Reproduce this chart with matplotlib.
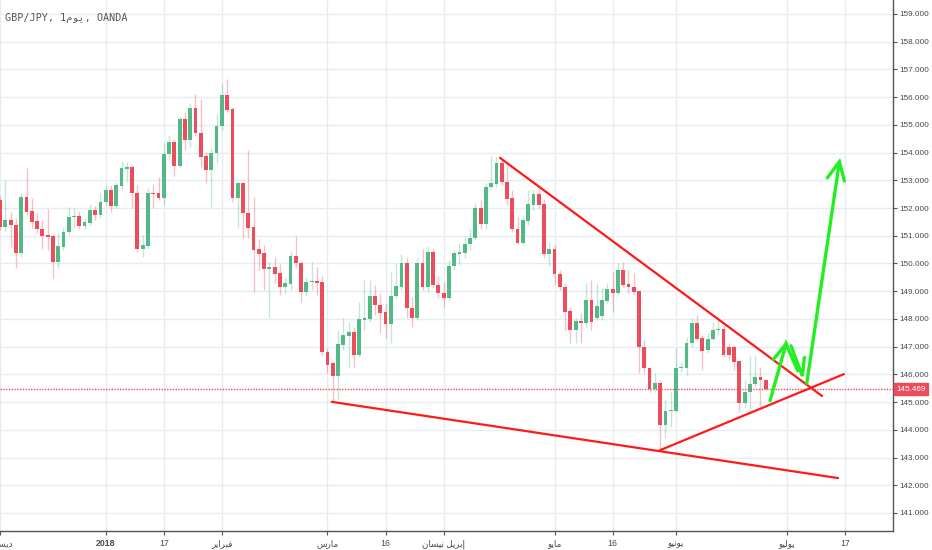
import matplotlib.pyplot as plt

# GBP/JPY daily candles, Dec 2017 - Jun 2018
opens = [152.29, 151.32, 151.57, 151.39, 150.38, 152.40, 151.89, 151.53, 151.24, 151.03,
         150.99, 150.05, 150.59, 151.14, 151.68, 151.71, 151.35, 151.46, 151.93, 151.75,
         152.22, 152.65, 152.07, 152.79, 153.41, 153.48, 152.54, 150.52, 150.63, 152.54,
         152.54, 152.36, 153.95, 154.38, 153.52, 155.21, 154.45, 155.61, 154.70, 153.88,
         153.37, 153.99, 154.96, 156.08, 155.57, 152.36, 152.90, 151.82, 151.32, 150.52,
         150.38, 149.80, 149.87, 149.66, 149.15, 149.26, 150.27, 150.02, 148.97, 149.33,
         149.37, 149.33, 146.81, 146.41, 145.94, 147.06, 147.39, 147.53, 146.70, 147.96,
         148.00, 148.83, 148.50, 148.25, 147.82, 148.83, 149.15, 150.02, 148.39, 148.03,
         150.02, 149.15, 150.41, 149.22, 148.93, 148.75, 149.91, 150.34, 150.38, 150.70,
         150.92, 152.00, 151.42, 152.76, 152.87, 153.63, 152.94, 152.36, 151.24, 150.74,
         151.53, 152.11, 152.51, 152.15, 150.34, 150.52, 149.62, 149.15, 148.28, 147.60,
         147.92, 147.85, 148.68, 148.03, 148.10, 148.64, 149.08, 148.93, 149.76, 149.26,
         149.15, 149.01, 146.99, 146.23, 145.47, 145.69, 144.17, 144.68, 144.68, 146.23,
         146.23, 147.13, 147.85, 147.31, 146.88, 147.28, 147.60, 147.64, 146.99, 146.99,
         146.48, 144.97, 145.36, 145.65, 145.91, 145.80]
highs = [152.43, 153.01, 151.86, 151.64, 152.54, 153.44, 152.36, 151.82, 151.57, 151.96,
         151.06, 151.10, 151.32, 152.04, 152.00, 151.89, 151.64, 152.15, 152.07, 152.54,
         152.83, 152.83, 152.94, 153.70, 153.66, 153.55, 152.83, 151.03, 152.72, 152.87,
         153.12, 154.34, 154.63, 154.45, 155.32, 155.46, 155.79, 156.11, 155.93, 154.02,
         154.16, 155.39, 156.47, 156.65, 155.64, 152.94, 152.94, 154.09, 152.40, 150.88,
         150.67, 150.05, 150.23, 149.98, 149.51, 150.45, 150.99, 150.10, 149.51, 150.05,
         149.87, 149.55, 146.95, 146.48, 147.60, 148.03, 147.89, 147.71, 148.61, 149.40,
         149.40, 149.22, 148.93, 148.57, 149.69, 150.02, 150.34, 150.23, 148.79, 150.20,
         150.52, 150.63, 150.52, 149.55, 149.33, 150.13, 150.49, 150.74, 150.99, 151.24,
         152.18, 152.29, 152.90, 153.88, 153.84, 153.81, 153.63, 152.65, 151.68, 151.71,
         152.65, 152.65, 152.76, 152.33, 150.77, 150.67, 149.76, 149.30, 148.43, 148.03,
         148.21, 149.30, 149.40, 149.30, 149.12, 149.30, 149.69, 150.02, 150.05, 149.76,
         149.66, 149.04, 147.24, 146.27, 146.05, 145.80, 145.08, 145.36, 146.95, 146.45,
         147.35, 148.03, 148.14, 147.42, 147.49, 147.89, 148.07, 147.78, 147.13, 147.06,
         146.52, 145.80, 146.70, 146.70, 146.27, 145.84]
lows = [151.21, 151.17, 150.59, 149.84, 150.23, 151.75, 151.28, 151.10, 150.52, 150.49,
        149.48, 149.84, 150.49, 151.03, 151.32, 151.24, 151.24, 151.39, 151.57, 151.64,
        152.11, 151.86, 152.00, 152.69, 152.94, 152.00, 150.41, 150.23, 150.56, 152.00,
        152.29, 152.11, 153.73, 153.16, 153.44, 154.09, 154.20, 154.60, 153.48, 152.90,
        152.04, 153.62, 154.81, 155.46, 152.22, 151.28, 150.92, 150.92, 148.97, 149.76,
        149.04, 148.03, 149.30, 148.86, 148.93, 149.04, 149.84, 148.61, 148.86, 149.04,
        148.86, 146.70, 146.05, 145.00, 145.11, 146.88, 146.27, 146.27, 146.63, 147.60,
        147.89, 148.14, 147.49, 147.31, 147.13, 148.75, 149.04, 148.03, 147.71, 147.96,
        149.04, 148.97, 149.12, 148.75, 148.43, 148.68, 149.76, 149.95, 150.20, 150.49,
        150.85, 151.24, 151.24, 152.69, 152.76, 152.83, 152.11, 151.14, 150.70, 150.67,
        151.39, 151.93, 152.00, 150.20, 149.91, 149.22, 149.04, 147.60, 147.13, 147.13,
        147.13, 147.71, 147.60, 147.96, 147.96, 148.57, 148.25, 148.86, 149.15, 148.93,
        148.86, 146.05, 146.05, 145.36, 145.36, 143.27, 143.70, 144.10, 144.64, 146.09,
        145.98, 146.99, 147.24, 146.16, 146.77, 147.24, 147.42, 146.63, 146.52, 146.16,
        144.64, 144.79, 144.64, 145.54, 144.82, 145.44]
closes = [151.32, 151.57, 151.39, 150.38, 152.40, 151.86, 151.50, 151.24, 150.99, 150.95,
          150.05, 150.63, 151.14, 151.68, 151.71, 151.35, 151.50, 151.93, 151.75, 152.22,
          152.65, 152.07, 152.83, 153.44, 153.48, 152.54, 150.52, 150.67, 152.54, 152.51,
          152.36, 153.95, 154.38, 153.52, 155.21, 154.45, 155.61, 154.70, 153.84, 153.37,
          153.99, 154.96, 156.08, 155.54, 152.36, 152.90, 151.82, 151.28, 150.49, 150.34,
          149.80, 149.87, 149.62, 149.15, 149.30, 150.27, 150.02, 148.97, 149.33, 149.37,
          149.30, 146.81, 146.34, 145.94, 147.10, 147.42, 147.53, 146.70, 148.00, 148.03,
          148.83, 148.50, 148.21, 147.82, 148.83, 149.19, 150.02, 148.39, 148.03, 150.02,
          149.15, 150.41, 149.22, 148.93, 148.75, 149.91, 150.38, 150.41, 150.70, 150.92,
          152.00, 151.42, 152.76, 152.90, 153.63, 152.94, 152.33, 151.24, 150.74, 151.57,
          152.15, 152.51, 152.11, 150.34, 150.52, 149.62, 149.15, 148.25, 147.60, 147.92,
          147.85, 148.68, 147.89, 148.46, 148.68, 149.08, 148.93, 149.76, 149.22, 149.15,
          148.97, 146.99, 146.23, 145.47, 145.69, 144.17, 144.68, 144.71, 146.23, 146.27,
          147.13, 147.85, 147.28, 146.84, 147.28, 147.60, 147.64, 146.70, 146.70, 146.45,
          144.97, 145.36, 145.65, 145.91, 145.80, 145.469]

last_price = 145.469

# date labels on the time axis (bar index of the labelled day)
tick_bars = [0, 20, 31, 42, 62, 73, 84, 105, 116, 128, 149, 160]
# Arabic month names written in shaped, visual order so they show correctly
tick_labels = [
    "\uFEAE\uFE92\uFEE4\uFEB4\uFEF3\uFEA9",  # ديسمبر
    "2018",
    "17",
    "\uFEAE\uFEF3\uFE8D\uFEAE\uFE92\uFED3",  # فبراير
    "\uFEB1\uFEAD\uFE8E\uFEE3",  # مارس
    "16",
    "\uFEE5\uFE8E\uFEB4\uFEF4\uFEE7 \uFEDE\uFEF3\uFEAE\uFE91\uFE87",  # إبريل نيسان
    "\uFEEE\uFEF3\uFE8E\uFEE3",  # مايو
    "16",
    "\uFEEE\uFEF4\uFEE7\uFEEE\uFEF3",  # يونيو
    "\uFEEE\uFEF4\uFEDF\uFEEE\uFEF3",  # يوليو
    "17",
]
price_ticks = list(range(141, 160))

title = "GBP/JPY, 1\uFEE1\uFEEE\uFEF3, OANDA"  # 1يوم

# hand drawn lines (bar index, price)
red_lines = [
    [(94.68, 153.81), (155.66, 145.22)],
    [(62.8, 145.01), (158.7, 142.26)],
    [(124.8, 143.25), (159.8, 146.01)],
]
green_lines = [
    [(145.81, 145.05), (148.85, 147.10), (151.06, 146.13)],
    [(146.44, 146.54), (148.85, 147.10)],
    [(149.79, 147.03), (151.93, 145.94), (152.31, 146.61)],
    [(152.77, 145.68), (158.95, 153.67)],
    [(156.67, 153.09), (158.95, 153.67), (159.89, 152.98)],
]

UP = "#53b987"
DOWN = "#eb4d5c"
GRID = "#e6edf1"
TEXT = "#4a4a4a"
FONTE_EIXO = ["Liberation Sans", "DejaVu Sans"]


def desenhar_velas(ax):
    for i in range(len(opens)):
        o, h, l, c = opens[i], highs[i], lows[i], closes[i]
        cor = UP if c >= o else DOWN
        # pavio mais claro que o corpo
        ax.vlines(i, l, h, color=cor, alpha=0.35, linewidth=1, zorder=2)
        if abs(c - o) >= 0.04:
            base, altura = min(o, c), abs(c - o)
        else:
            base, altura = (o + c) / 2 - 0.02, 0.04
        ax.bar(i, altura, bottom=base, width=0.72, color=cor, linewidth=0, zorder=3)


def main():
    fig = plt.figure(figsize=(9.32, 5.5), dpi=100)
    ax = fig.add_axes([0, 19 / 550, 893 / 932, 531 / 550])

    desenhar_velas(ax)

    # linha do último preço
    ax.axhline(last_price, color=DOWN, linestyle=(0, (1, 1)), linewidth=1, zorder=4)

    for linha in red_lines:
        xs = [p[0] for p in linha]
        ys = [p[1] for p in linha]
        ax.plot(xs, ys, color="#ff1a1a", linewidth=1.6, solid_capstyle="round", zorder=5)
    for linha in green_lines:
        xs = [p[0] for p in linha]
        ys = [p[1] for p in linha]
        ax.plot(xs, ys, color="#22ee22", linewidth=2.4, solid_capstyle="round",
                solid_joinstyle="miter", zorder=6)

    ax.set_xlim(-0.02, 169.1)
    ax.set_ylim(140.35, 159.505)

    # eixo de preços à direita
    ax.yaxis.tick_right()
    ax.set_yticks(price_ticks)
    ax.set_yticklabels([f"{p:.3f}" for p in price_ticks], family=FONTE_EIXO,
                       fontsize=5.9, color=TEXT)
    ax.set_xticks(tick_bars)
    ax.set_xticklabels(tick_labels, family=FONTE_EIXO, fontsize=6.3, color=TEXT)
    ax.get_xticklabels()[1].set_fontweight("bold")
    ax.tick_params(axis="y", length=3, width=0.8, color="#555555", pad=1.5)
    ax.tick_params(axis="x", length=3, width=0.8, color="#555555", pad=3)

    ax.grid(True, color=GRID, linewidth=1, zorder=0)
    ax.set_axisbelow(True)

    for lado in ["left", "top"]:
        ax.spines[lado].set_visible(False)
    for lado in ["right", "bottom"]:
        ax.spines[lado].set_color("#555555")
        ax.spines[lado].set_linewidth(1)

    # etiqueta do último preço
    ax.annotate(f"{last_price:.3f}", xy=(1.0, last_price),
                xycoords=("axes fraction", "data"), xytext=(2.5, 0),
                textcoords="offset points", ha="left", va="center",
                fontsize=5.9, color="white", family=FONTE_EIXO,
                bbox=dict(boxstyle="square,pad=0.3", facecolor=DOWN, edgecolor=DOWN),
                annotation_clip=False, zorder=10)

    ax.text(0.006, 0.967, title, transform=ax.transAxes, fontsize=7.3, color="#555555",
            family=["DejaVu Sans Mono", "DejaVu Sans"], ha="left", va="center")

    fig.savefig("out.png", dpi=100)


if __name__ == "__main__":
    main()
